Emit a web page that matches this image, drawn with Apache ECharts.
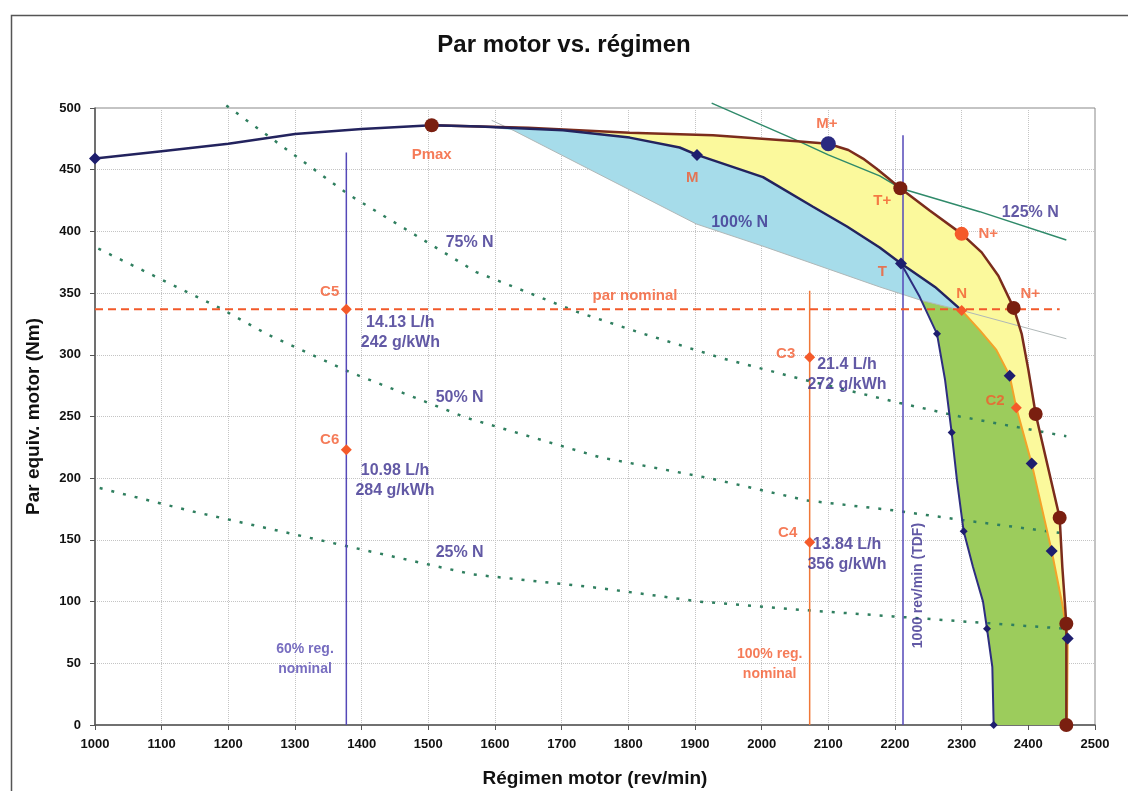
<!DOCTYPE html>
<html>
<head>
<meta charset="utf-8">
<script src="https://cdn.jsdelivr.net/npm/echarts@6/dist/echarts.min.js"></script>
<style>
html, body { margin: 0; padding: 0; background: #fff; }
#chart { width: 1128px; height: 791px; }
</style>
</head>
<body>
<div id="chart"></div>
<script>
// curva de plena carga (hasta Pmax) y curva 100% N
var fullLoad = [[1000,459],[1100,465],[1200,471],[1300,479],[1400,483],[1505,486],[1577,485],[1702,482],[1802,476],[1877,468],[1903,462],[2002,444],[2077,420],[2128,404],[2177,387],[2209,374],[2260,355],[2300,336]];
// curva superior (marron)
var upperCurve = [[1505,486],[1650,484],[1802,480],[1927,478],[2053,473],[2100,471],[2130,466],[2152,459],[2172,451],[2190,443],[2208,435],[2252,417],[2300,398],[2330,383],[2355,364],[2378,338],[2390,317],[2400,288],[2411,252],[2447,168],[2451,128],[2457,82],[2457,0]];
// regulador (naranja) desde N
var govCurve = [[2300,336],[2327,320],[2352,304],[2372,283],[2382,257],[2405,212],[2435,141],[2452,95],[2459,70],[2458,0]];
// curva izquierda desde T
var tdfCurve = [[2209,374],[2237,347],[2263,317],[2275,280],[2285,237],[2293,198],[2303,157],[2317,128],[2332,100],[2338,78],[2346,47],[2348,0]];
// borde inferior zona azul
var blueLower = [[1627,482],[1902,406],[2002,388],[2177,355],[2240,344],[2300,336]];
var greyTrend = [[1595,490],[1627,482],[1902,406],[2002,388],[2177,355],[2240,344],[2300,336],[2457,313]];

var n125 = [[1925,504],[2052,474],[2100,462],[2177,445],[2208,435],[2327,416],[2457,393]];
var n75 = [[1197,502],[1380,430],[1572,367],[1722,335],[1817,318],[1942,297],[2062,280],[2207,261],[2297,250],[2457,234]];
var n50 = [[1005,386],[1187,338],[1257,317],[1382,286],[1557,249],[1757,217],[1922,200],[2067,182],[2197,174],[2302,166],[2457,155]];
var n25 = [[1007,192],[1147,173],[1377,145],[1567,122],[1757,111],[1907,100],[2067,93],[2197,88],[2457,78]];

var reg60 = [[1377,464],[1377,0]];
var reg100 = [[2072,352],[2072,0]];
var tdf1000 = [[2212,478],[2212,0]];
var parNominal = [[1000,337],[2447,337]];

// marcadores
var navyDiamonds = [[1000,459],[1903,462],[2209,374],[2372,283],[2405,212],[2435,141],[2459,70]];
var smallDiamonds = [[2263,317],[2285,237],[2303,157],[2338,78],[2348,0]];
var brownDots = [[1505,486],[2208,435],[2378,338],[2411,252],[2447,168],[2457,82],[2457,0]];
var navyDots = [[2100,471]];
var orangeDots = [[2300,398]];
var orangeDiamonds = [[2300,336],[2382,257],[1377,337],[1377,223],[2072,298],[2072,148]];

// textos: [texto, rpm, par, estilo]
var notes = [
  ['Pmax', 1505, 462, 'o'], ['M', 1896, 443, 'o'], ['M+', 2098, 487, 'o'],
  ['T+', 2181, 425, 'o'], ['T', 2181, 367, 'o'], ['N+', 2340, 398, 'o'],
  ['N', 2300, 349, 'o'], ['N+', 2403, 349, 'o'], ['C2', 2350, 263, 'o'],
  ['C5', 1352, 351, 'o'], ['C6', 1352, 231, 'o'], ['C3', 2036, 301, 'o'],
  ['C4', 2039, 156, 'o'], ['par nominal', 1810, 348, 'o'],
  ['14.13 L/h\n242 g/kWh', 1458, 318, 'n'], ['10.98 L/h\n284 g/kWh', 1450, 198, 'n'],
  ['21.4 L/h\n272 g/kWh', 2128, 284, 'n'], ['13.84 L/h\n356 g/kWh', 2128, 138, 'n'],
  ['75% N', 1562, 391, 'n'], ['50% N', 1547, 265, 'n'], ['25% N', 1547, 140, 'n'],
  ['100% N', 1967, 407, 'n'], ['125% N', 2403, 415, 'n'],
  ['60% reg.\nnominal', 1315, 53, 'v'], ['100% reg.\nnominal', 2012, 49, 'o2'],
  ['1000 rev/min (TDF)', 2234, 113, 'r']
];

var NAVY = '#23235e', BROWN = '#7b2c1c', ORANGE = '#f25a2e', TXT_NAVY = '#3b2f8f';

function area(pts, color) {
  return {
    type: 'custom', silent: true, z: 1, clip: true,
    data: pts,
    renderItem: function (params, api) {
      if (params.dataIndex !== 0) return null;
      return {
        type: 'polygon',
        shape: { points: pts.map(function (p) { return api.coord(p); }) },
        style: { fill: color }
      };
    }
  };
}

function line(data, color, width, type, z) {
  return {
    type: 'line', data: data, symbol: 'none', silent: true, clip: false,
    lineStyle: { color: color, width: width, type: type || 'solid' },
    z: z || 3
  };
}

function marks(data, symbol, size, color, z) {
  return {
    type: 'scatter', data: data, symbol: symbol, symbolSize: size, silent: true,
    itemStyle: { color: color, opacity: 1 }, z: z || 5
  };
}

var yellowPoly = upperCurve.concat(govCurve.slice().reverse(), fullLoad.slice(5).reverse());
var bluePoly = fullLoad.slice(6).concat(blueLower.slice().reverse());
var greenPoly = [[2240,344]].concat(govCurve, [[2348,0]], tdfCurve.slice(2).reverse());

var styles = {
  o: { color: ORANGE, fontSize: 15, fontWeight: 'bold' },
  o2: { color: ORANGE, fontSize: 14, fontWeight: 'bold', lineHeight: 20 },
  n: { color: TXT_NAVY, fontSize: 16, fontWeight: 'bold', lineHeight: 20 },
  v: { color: '#5548b0', fontSize: 14, fontWeight: 'bold', lineHeight: 20 },
  r: { color: TXT_NAVY, fontSize: 14, fontWeight: 'bold', rotate: 90 }
};

var noteData = notes.map(function (n) {
  var st = styles[n[3]];
  return {
    name: n[0], value: [n[1], n[2]],
    label: Object.assign({ show: true, position: 'inside', formatter: '{b}', fontFamily: 'Liberation Sans, Arial' }, st)
  };
});

var chart = echarts.init(document.getElementById('chart'));
var option = {
  animation: false,
  backgroundColor: '#fff',
  title: {
    text: 'Par motor vs. régimen', left: 'center', top: 28,
    textStyle: { fontSize: 24, fontWeight: 'bold', color: '#111', fontFamily: 'Liberation Sans, Arial' }
  },
  graphic: [{
    type: 'rect', left: 9, top: 13, z: -10,
    shape: { width: 1140, height: 800 },
    style: { fill: 'none', stroke: '#555', lineWidth: 1.5 }
  }],
  grid: {
    left: 95, right: 33, top: 108, bottom: 66, show: true,
    borderColor: '#888', borderWidth: 1, outerBoundsMode: 'none', containLabel: false
  },
  xAxis: {
    type: 'value', min: 1000, max: 2500, interval: 100,
    name: 'Régimen motor (rev/min)', nameLocation: 'middle', nameGap: 44,
    nameTextStyle: { fontSize: 19, fontWeight: 'bold', color: '#111', fontFamily: 'Liberation Sans, Arial' },
    axisLine: { lineStyle: { color: '#555', width: 1.5 } },
    axisTick: { length: 5, lineStyle: { color: '#555' } },
    axisLabel: {
      fontSize: 13, fontWeight: 'bold', color: '#111', margin: 13,
      fontFamily: 'Liberation Sans Narrow, Liberation Sans, Arial',
      formatter: function (v) { return String(v); }
    },
    splitLine: { lineStyle: { color: '#c4c4c4', type: 'dotted' } }
  },
  yAxis: {
    type: 'value', min: 0, max: 500, interval: 50,
    name: 'Par equiv. motor (Nm)', nameLocation: 'middle', nameGap: 52,
    nameTextStyle: { fontSize: 19, fontWeight: 'bold', color: '#111', fontFamily: 'Liberation Sans, Arial' },
    axisLine: { show: true, lineStyle: { color: '#555', width: 1.5 } },
    axisTick: { show: true, length: 5, lineStyle: { color: '#555' } },
    axisLabel: {
      fontSize: 13, fontWeight: 'bold', color: '#111', margin: 14,
      fontFamily: 'Liberation Sans Narrow, Liberation Sans, Arial',
      formatter: function (v) { return String(v); }
    },
    splitLine: { lineStyle: { color: '#c4c4c4', type: 'dotted' } }
  },
  series: [
    area(yellowPoly, '#fbf99c'),
    area(bluePoly, '#a6dcea'),
    area(greenPoly, '#9ccc5c'),
    line(greyTrend, '#b0b8b8', 1, 'solid', 2),
    line(n75, '#2f7f5f', 2.5, [3, 9]),
    line(n50, '#2f7f5f', 2.5, [3, 9]),
    line(n25, '#2f7f5f', 2.5, [3, 9]),
    line(n125, '#2f8a6a', 1.5),
    line(reg60, '#5548b8', 1.5),
    line(reg100, '#f07838', 1.5),
    line(tdf1000, '#5548b8', 1.5),
    line(parNominal, '#f2592a', 2, [8, 5]),
    line(govCurve, '#f3a32a', 2),
    line(tdfCurve, '#2e2e80', 2),
    line(upperCurve, BROWN, 2.5),
    line(fullLoad, NAVY, 2.5),
    marks(navyDiamonds, 'diamond', 12, '#1e1e6e'),
    marks(smallDiamonds, 'diamond', 8, '#1e1e6e'),
    marks(brownDots, 'circle', 14, '#7a1f10'),
    marks(navyDots, 'circle', 15, '#2a2a80'),
    marks(orangeDots, 'circle', 14, '#f55a2a'),
    marks(orangeDiamonds, 'diamond', 11, '#f55a2a'),
    {
      type: 'scatter', data: noteData, symbolSize: 1, silent: true, z: 8,
      itemStyle: { color: 'rgba(0,0,0,0)' }
    }
  ]
};
chart.setOption(option);
</script>
</body>
</html>
